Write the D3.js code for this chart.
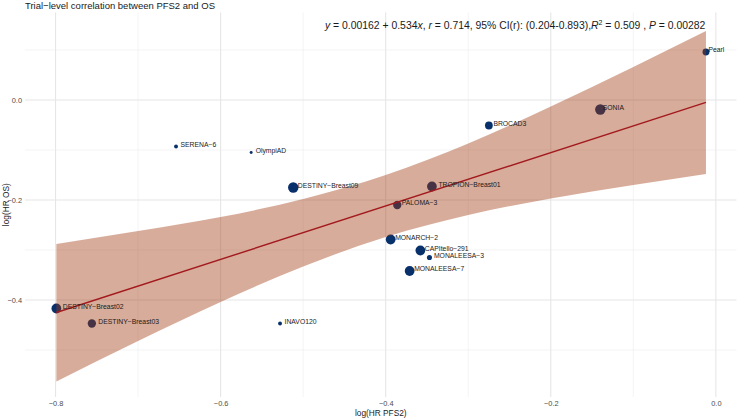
<!DOCTYPE html>
<html>
<head>
<meta charset="utf-8">
<script src="https://cdn.jsdelivr.net/npm/d3@7"></script>
<style>
  body { margin: 0; background: #fff; }
  svg { font-family: "Liberation Sans", Arial, sans-serif; }
</style>
</head>
<body>
<svg id="chart"></svg>
<script>
// trial level data (log HR PFS2 vs log HR OS), point weight ~ trial size
var trials = ["Pearl", "SONIA", "BROCAD3", "SERENA\u22126", "OlympiAD", "DESTINY\u2212Breast09",
    "TROPION\u2212Breast01", "PALOMA\u22123", "MONARCH\u22122", "CAPItello\u2212291", "MONALEESA\u22123",
    "MONALEESA\u22127", "DESTINY\u2212Breast02", "DESTINY\u2212Breast03", "INAVO120"];
var logPFS2 = [-0.012, -0.140, -0.275, -0.654, -0.563, -0.512, -0.344, -0.386, -0.394, -0.358, -0.347, -0.371, -0.799, -0.756, -0.528];
var logOS = [0.096, -0.019, -0.051, -0.093, -0.105, -0.175, -0.173, -0.210, -0.279, -0.301, -0.315, -0.342, -0.417, -0.447, -0.447];
var weight = [11, 25, 14, 3.5, 2, 25, 22, 16, 22, 22, 6, 22, 22, 16, 3.5];

// fitted line and its 95% band
var fitIntercept = 0.00162, fitSlope = 0.534;
var bandX = [-0.799, -0.70, -0.60, -0.50, -0.40, -0.30, -0.20, -0.10, -0.012];
var bandLow = [-0.563, -0.482, -0.404, -0.333, -0.274, -0.230, -0.197, -0.170, -0.148];
var bandHigh = [-0.288, -0.262, -0.234, -0.198, -0.150, -0.087, -0.013, 0.066, 0.138];

var xTicks = [-0.8, -0.6, -0.4, -0.2, 0.0];
var xMinor = [-0.7, -0.5, -0.3, -0.1];
var yTicks = [-0.4, -0.2, 0.0];
var yMinor = [-0.5, -0.3, -0.1, 0.1];

var svgWidth = 739, svgHeight = 419;
var panel = {left: 25, right: 736.5, top: 12.5, bottom: 397};

// small label nudges (px), the rest use the default
var nudge = {"Pearl": 2.5, "SONIA": 2.5, "DESTINY\u2212Breast02": 6.5, "DESTINY\u2212Breast03": 6.5, "TROPION\u2212Breast01": 6.5};

var svg = d3.select("#chart").attr("width", svgWidth).attr("height", svgHeight);

var x = d3.scaleLinear().domain([-0.837, 0.025]).range([panel.left, panel.right]);
var y = d3.scaleLinear().domain([-0.594, 0.175]).range([panel.bottom, panel.top]);
var r = d3.scaleSqrt().domain([0, 25]).range([0, 5.2]);

// grid
var grid = svg.append("g");
grid.selectAll(".xminor").data(xMinor).enter().append("line")
    .attr("x1", function (d) { return x(d); }).attr("x2", function (d) { return x(d); })
    .attr("y1", panel.top).attr("y2", panel.bottom)
    .attr("stroke", "#ededed").attr("stroke-width", 0.6);
grid.selectAll(".yminor").data(yMinor).enter().append("line")
    .attr("y1", function (d) { return y(d); }).attr("y2", function (d) { return y(d); })
    .attr("x1", panel.left).attr("x2", panel.right)
    .attr("stroke", "#ededed").attr("stroke-width", 0.6);
grid.selectAll(".xmajor").data(xTicks).enter().append("line")
    .attr("x1", function (d) { return x(d); }).attr("x2", function (d) { return x(d); })
    .attr("y1", panel.top).attr("y2", panel.bottom)
    .attr("stroke", "#e6e6e6").attr("stroke-width", 1.1);
grid.selectAll(".ymajor").data(yTicks).enter().append("line")
    .attr("y1", function (d) { return y(d); }).attr("y2", function (d) { return y(d); })
    .attr("x1", panel.left).attr("x2", panel.right)
    .attr("stroke", "#e6e6e6").attr("stroke-width", 1.1);

// axes (labels only, like theme_minimal)
var fmt = d3.format(".1f");
var xAxis = svg.append("g").attr("transform", "translate(0," + panel.bottom + ")")
    .call(d3.axisBottom(x).tickValues(xTicks).tickFormat(fmt).tickSize(0).tickPadding(4));
var yAxis = svg.append("g").attr("transform", "translate(" + panel.left + ",0)")
    .call(d3.axisLeft(y).tickValues(yTicks).tickFormat(fmt).tickSize(0).tickPadding(3));
[xAxis, yAxis].forEach(function (a) {
    a.select(".domain").remove();
    a.selectAll("text").attr("fill", "#4d4d4d").style("font-size", "7.4px")
        .style("font-family", "Liberation Sans, Arial, sans-serif");
});

// points
var pts = trials.map(function (t, i) {
    return {name: t, x: logPFS2[i], y: logOS[i], w: weight[i]};
});
svg.append("g").selectAll("circle").data(pts).enter().append("circle")
    .attr("cx", function (d) { return x(d.x); })
    .attr("cy", function (d) { return y(d.y); })
    .attr("r", function (d) { return r(d.w); })
    .attr("fill", "#08306b");

// confidence band + fit line drawn over points
var band = bandX.map(function (v, i) { return {x: v, lo: bandLow[i], hi: bandHigh[i]}; });
svg.append("path").datum(band)
    .attr("d", d3.area().curve(d3.curveMonotoneX)
        .x(function (d) { return x(d.x); })
        .y0(function (d) { return y(d.lo); })
        .y1(function (d) { return y(d.hi); }))
    .attr("fill", "#a0390f").attr("fill-opacity", 0.42);

var xr = d3.extent(logPFS2);
svg.append("line")
    .attr("x1", x(xr[0])).attr("y1", y(fitIntercept + fitSlope * xr[0]))
    .attr("x2", x(xr[1])).attr("y2", y(fitIntercept + fitSlope * xr[1]))
    .attr("stroke", "#a3191e").attr("stroke-width", 1.4);

// labels
svg.append("g").selectAll("text").data(pts).enter().append("text")
    .attr("x", function (d) { return x(d.x) + (nudge[d.name] !== undefined ? nudge[d.name] : 4.5); })
    .attr("y", function (d) { return y(d.y) - 2; })
    .attr("dy", "0.35em")
    .style("font-size", "6.8px")
    .attr("fill", "#1a1a1a")
    .text(function (d) { return d.name; });

// title
svg.append("text").attr("x", 25).attr("y", 8.5)
    .style("font-size", "9.5px").attr("fill", "#1a1a1a")
    .text("Trial\u2212level correlation between PFS2 and OS");

// regression annotation
var ann = svg.append("text").attr("x", 325).attr("y", 29.3)
    .style("font-size", "10.4px").attr("fill", "#1a1a1a");
var parts = [
    ["y", true], [" = 0.00162 + 0.534", false], ["x", true], [", ", false], ["r", true],
    [" = 0.714, 95% CI(r): (0.204-0.893),", false], ["R", true]
];
parts.forEach(function (p) {
    ann.append("tspan").style("font-style", p[1] ? "italic" : "normal").text(p[0]);
});
ann.append("tspan").attr("dy", -4).style("font-size", "7px").text("2");
ann.append("tspan").attr("dy", 4).text(" = 0.509 , ");
ann.append("tspan").style("font-style", "italic").text("P");
ann.append("tspan").text(" = 0.00282");

// axis titles
svg.append("text").attr("x", (panel.left + panel.right) / 2).attr("y", 416)
    .attr("text-anchor", "middle").style("font-size", "8.3px").attr("fill", "#1a1a1a")
    .text("log(HR PFS2)");
svg.append("text").attr("transform", "rotate(-90)")
    .attr("x", -(panel.top + panel.bottom) / 2).attr("y", 9)
    .attr("text-anchor", "middle").style("font-size", "8.3px").attr("fill", "#1a1a1a")
    .text("log(HR OS)");
</script>
</body>
</html>
